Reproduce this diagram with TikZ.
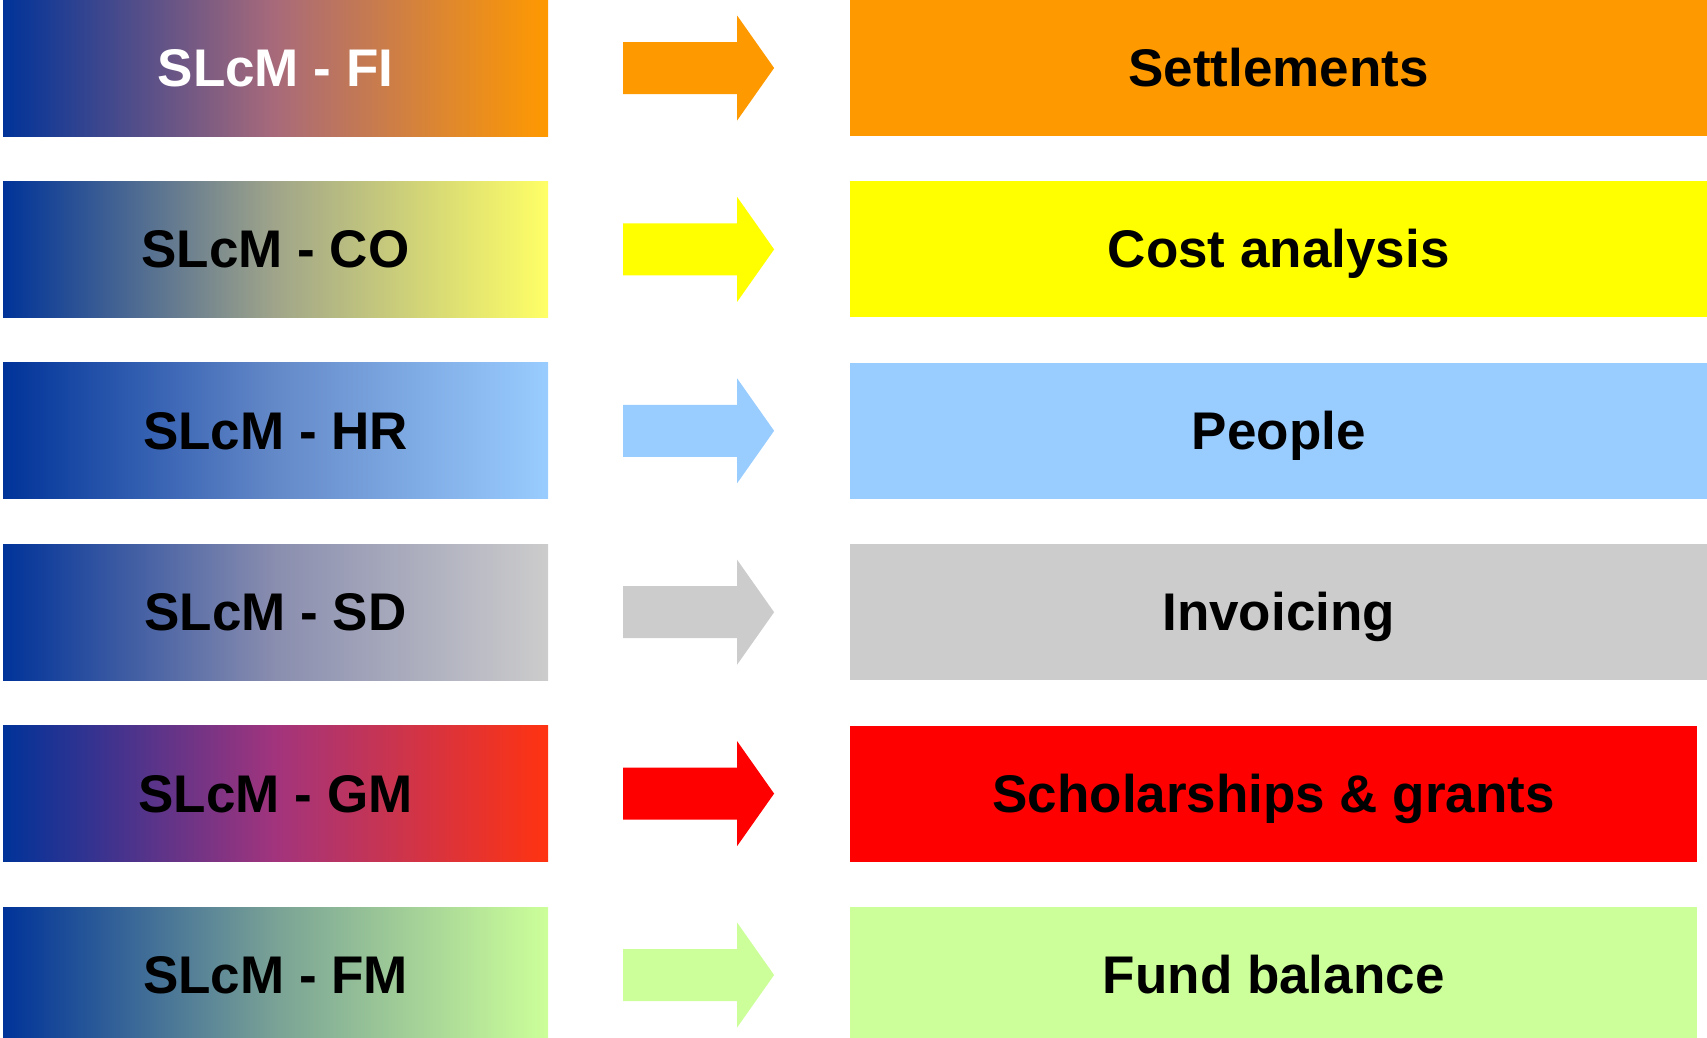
\documentclass[tikz,border=0pt]{standalone}
\usepackage{fontspec}
\setmainfont{Liberation Sans}
\usetikzlibrary{calc}
\definecolor{sapblue}{RGB}{0,51,153}
\definecolor{fiorange}{RGB}{255,153,0}
\definecolor{coyellow}{RGB}{255,255,0}
\definecolor{hrblue}{RGB}{153,204,255}
\definecolor{sdgrey}{RGB}{204,204,204}
\definecolor{gmred}{RGB}{255,0,0}
\definecolor{fmgreen}{RGB}{204,255,153}
\tikzset{
	module/.style={minimum width=545pt,minimum height=136pt,inner sep=0pt,
		text height=37pt,text depth=0pt,font=\fontsize{53}{60}\selectfont\bfseries,
		left color=sapblue},
	area/.style={minimum width=857pt,minimum height=136pt,inner sep=0pt,anchor=west,
		text height=37pt,text depth=0pt,font=\fontsize{53}{60}\selectfont\bfseries},
}
% block arrow between two boxes
\newcommand{\bigarrow}[3]{
	\coordinate (m) at ($(#1.east)!0.5!(#2.west)$);
	\fill[#3] ($(m)+(-76pt,26pt)$) -- ++(114pt,0) -- ++(0,26.5pt) -- ++(37pt,-52.5pt)
		-- ++(-37pt,-52.5pt) -- ++(0,26.5pt) -- ++(-114pt,0) -- cycle;
}
\begin{document}
\begin{tikzpicture}[x=1pt,y=1pt]
			\useasboundingbox (0,0) rectangle (1707,-1037);
			\clip (0,0) rectangle (1707,-1037);
			\node[module,right color=fiorange,middle color={rgb,255:red,168;green,106;blue,122},text=white] (fi) at (275.5,-68) {SLcM - FI};
			\node[module,right color={rgb,255:red,255;green,255;blue,102},middle color={rgb,255:red,160;green,165;blue,138}] (co) at (275.5,-249.4) {SLcM - CO};
			\node[module,right color=hrblue,middle color={rgb,255:red,100;green,137;blue,200}] (hr) at (275.5,-430.8) {SLcM - HR};
			\node[module,right color=sdgrey,middle color={rgb,255:red,138;green,142;blue,175}] (sd) at (275.5,-612.2) {SLcM - SD};
			\node[module,right color={rgb,255:red,255;green,51;blue,17},middle color={rgb,255:red,162;green,52;blue,125}] (gm) at (275.5,-793.6) {SLcM - GM};
			\node[module,right color=fmgreen,middle color={rgb,255:red,122;green,162;blue,150}] (fm) at (275.5,-975) {SLcM - FM};
			\node[area,fill=fiorange] (settle) at (850,-68) {Settlements};
			\node[area,fill=coyellow] (cost) at (850,-249.4) {Cost analysis};
			\node[area,fill=hrblue] (people) at (850,-430.8) {People};
			\node[area,fill=sdgrey] (invoice) at (850,-612.2) {Invoicing};
			\node[area,fill=gmred,minimum width=847pt] (grants) at (850,-793.6) {Scholarships \& grants};
			\node[area,fill=fmgreen,minimum width=847pt] (fund) at (850,-975) {Fund balance};
			\bigarrow{fi}{settle}{fiorange}
			\bigarrow{co}{cost}{coyellow}
			\bigarrow{hr}{people}{hrblue}
			\bigarrow{sd}{invoice}{sdgrey}
			\bigarrow{gm}{grants}{gmred}
			\bigarrow{fm}{fund}{fmgreen}
		\end{tikzpicture}
\end{document}
